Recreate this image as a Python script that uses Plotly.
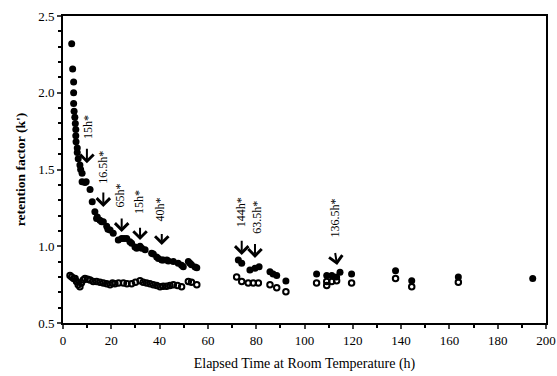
import plotly.graph_objects as go

# Upper (filled circles) series
upper_x = [3.6, 4.0, 4.4, 4.4, 4.4, 4.6, 4.9, 5.1, 5.3, 5.3, 5.4, 5.9, 5.9, 6.3, 7.0, 7.3,
           7.9, 7.9, 9.1, 9.6, 11.2, 12.1, 13.2, 13.9, 14.2, 15.3, 16.0, 16.7, 18.1, 18.6, 19.5,
           20.8, 22.9, 24.3, 25.3, 26.4, 27.7, 28.4, 29.8, 30.5, 31.9, 32.6, 34.0, 36.7,
           37.4, 38.8, 39.5, 40.9, 41.5, 43.0, 43.6, 45.7, 47.7, 49.1, 49.8, 51.9, 52.6,
           53.2, 54.7, 55.4,
           72.6, 74.0, 77.4, 79.5, 81.2, 85.7, 87.0, 88.5, 92.3,
           105.0, 109.2, 111.3, 113.3, 114.7, 119.5, 137.7, 144.4, 163.7, 194.5]
upper_y = [2.32, 2.155, 2.07, 2.0, 1.93, 1.88, 1.84, 1.80, 1.76, 1.72, 1.68, 1.64, 1.61, 1.57,
           1.53, 1.50, 1.475, 1.42, 1.415, 1.42, 1.37, 1.29, 1.225, 1.18, 1.19, 1.17, 1.16,
           1.16, 1.13, 1.11, 1.106, 1.085, 1.04, 1.05, 1.05, 1.05, 1.03, 1.02, 0.995, 0.987,
           1.0, 0.987, 0.978, 0.954, 0.95, 0.93, 0.92, 0.91, 0.91, 0.91, 0.904, 0.90, 0.89,
           0.877, 0.867, 0.90, 0.89, 0.88, 0.865, 0.86,
           0.91, 0.89, 0.845, 0.856, 0.867, 0.834, 0.82, 0.81, 0.773,
           0.82, 0.81, 0.81, 0.80, 0.83, 0.82, 0.84, 0.775, 0.80, 0.79]

# Lower (open circles) series
lower_x = [2.9, 3.6, 4.4, 5.0, 5.6, 6.3, 7.0, 7.6, 8.4, 9.1, 10.2, 11.2, 12.5, 13.9, 15.3,
           16.7, 18.1, 19.5, 20.5, 21.5, 23.0, 25.0, 26.5, 28.4, 30.0, 31.9, 33.2, 34.6,
           36.0, 37.4, 38.8, 40.2, 41.5, 42.9, 44.3, 45.7, 47.4, 49.1, 51.9, 53.2, 55.4,
           71.9, 74.0, 76.7, 78.8, 80.9, 85.7, 88.5, 92.3,
           105.0, 109.2, 109.2, 111.3, 113.3, 119.5, 137.7, 144.4, 163.7]
lower_y = [0.81, 0.80, 0.79, 0.79, 0.77, 0.75, 0.736, 0.76, 0.78, 0.79, 0.785, 0.78, 0.77,
           0.77, 0.765, 0.76, 0.755, 0.75, 0.76, 0.755, 0.76, 0.76, 0.755, 0.755, 0.765,
           0.775, 0.765, 0.76, 0.755, 0.75, 0.745, 0.736, 0.74, 0.74, 0.745, 0.75, 0.745,
           0.736, 0.77, 0.765, 0.75,
           0.80, 0.77, 0.76, 0.76, 0.76, 0.75, 0.73, 0.704,
           0.76, 0.77, 0.745, 0.77, 0.775, 0.76, 0.79, 0.736, 0.766]

# Annotations: label, text position, arrow tail, arrow tip
ann_labels = ["15h*", "16.5h*", "65h*", "15h*", "40h*", "144h*", "63.5h*", "136.5h*"]
ann_text_xy = [(10.4, 1.777), (16.4, 1.516), (23.6, 1.33), (31.2, 1.29), (40.2, 1.24),
               (74.0, 1.22), (80.2, 1.19), (112.6, 1.187)]
ann_tail_xy = [(9.9, 1.645), (16.7, 1.36), (24.3, 1.19), (31.9, 1.13), (40.9, 1.09),
               (74.0, 1.045), (79.5, 1.025), (112.6, 0.966)]
ann_tip_xy = [(9.9, 1.54), (16.7, 1.256), (24.3, 1.093), (31.9, 1.04), (40.9, 1.008),
              (74.0, 0.943), (79.5, 0.924), (113.5, 0.878)]

FONT = "Liberation Serif"

fig = go.Figure()
fig.add_trace(go.Scatter(x=lower_x, y=lower_y, mode="markers",
                         marker=dict(symbol="circle-open", size=5.5, color="black",
                                     line=dict(width=2, color="black")),
                         showlegend=False))
fig.add_trace(go.Scatter(x=upper_x, y=upper_y, mode="markers",
                         marker=dict(symbol="circle", size=7, color="black"),
                         showlegend=False))

annotations = []
for lab, (tx, ty), (ax_, ay_), (hx, hy) in zip(ann_labels, ann_text_xy, ann_tail_xy, ann_tip_xy):
    annotations.append(dict(x=tx, y=ty, xref="x", yref="y", text=lab, showarrow=False,
                            textangle=-90, font=dict(family=FONT, size=12, color="black")))
    annotations.append(dict(x=hx, y=hy, ax=ax_, ay=ay_, xref="x", yref="y",
                            axref="x", ayref="y", text="", showarrow=True,
                            arrowhead=4, arrowsize=1.3, arrowwidth=2, arrowcolor="black"))

fig.update_layout(
    width=557, height=376,
    margin=dict(l=63, r=11, t=16, b=53, autoexpand=False),
    paper_bgcolor="white", plot_bgcolor="white",
    font=dict(family=FONT, size=13, color="black"),
    annotations=annotations,
    xaxis=dict(range=[0, 200], tickmode="linear", tick0=0, dtick=20, automargin=False,
               ticks="outside", ticklen=4, tickwidth=1.5, showgrid=False, zeroline=False,
               showline=True, linewidth=1.8, linecolor="black", mirror=True,
               minor=dict(dtick=10, ticks="outside", ticklen=3, tickcolor="black"),
               tickfont=dict(family=FONT, size=13),
               title=dict(text="Elapsed Time at Room Temperature (h)",
                          font=dict(family=FONT, size=14), standoff=12)),
    yaxis=dict(range=[0.5, 2.5], tickmode="linear", tick0=0.5, dtick=0.5, automargin=False,
               tickformat=".1f",
               ticks="outside", ticklen=4, tickwidth=1.5, showgrid=False, zeroline=False,
               showline=True, linewidth=1.8, linecolor="black", mirror=True,
               minor=dict(dtick=0.1, ticks="outside", ticklen=3, tickcolor="black"),
               tickfont=dict(family=FONT, size=13),
               title=dict(text="<b>retention factor (k')</b>",
                          font=dict(family=FONT, size=13.5), standoff=10)),
)

fig.write_html("out.html")
